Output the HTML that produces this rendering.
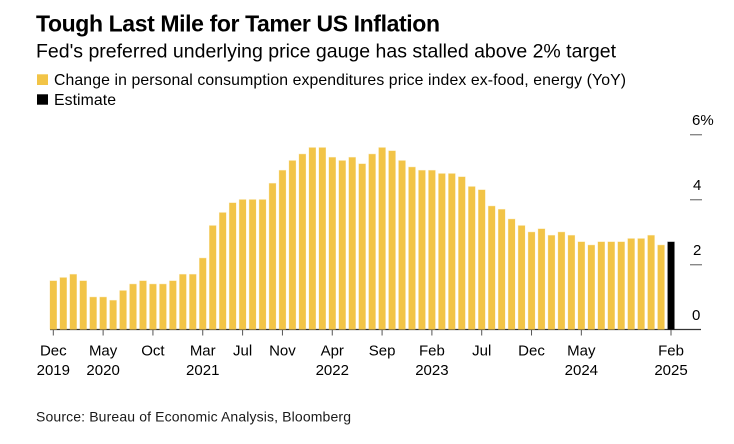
<!DOCTYPE html>
<html lang="en">
<head>
<meta charset="utf-8">
<title>Tough Last Mile for Tamer US Inflation</title>
<style>
html,body{margin:0;padding:0;background:#fff;width:734px;height:444px;overflow:hidden}
svg{display:block;font-family:"Liberation Sans",Arial,sans-serif;fill:#000}
</style>
</head>
<body>
<svg id="chart" width="734" height="444" viewBox="0 0 734 444" xmlns="http://www.w3.org/2000/svg">
  <text x="36" y="31.7" font-size="23" font-weight="700" textLength="404" lengthAdjust="spacing">Tough Last Mile for Tamer US Inflation</text>
  <text x="36" y="57.7" font-size="19.5" textLength="580" lengthAdjust="spacing">Fed's preferred underlying price gauge has stalled above 2% target</text>
  <rect x="37" y="74.3" width="11" height="10.7" fill="#f2c447"/>
  <text x="54" y="85" font-size="15.8" textLength="572" lengthAdjust="spacing">Change in personal consumption expenditures price index ex-food, energy (YoY)</text>
  <rect x="37" y="94.3" width="11" height="10.4" fill="#000"/>
  <text x="54" y="105" font-size="15.8" textLength="62" lengthAdjust="spacing">Estimate</text>
  <g id="y-axis"></g>
  <g id="x-axis"></g>
  <g id="bars"></g>
  <text x="36" y="421.7" font-size="14" fill="#1a1a1a" textLength="315" lengthAdjust="spacing">Source: Bureau of Economic Analysis, Bloomberg</text>
</svg>
<script>
var pceValues = [1.5,1.6,1.7,1.5,1.0,1.0,0.9,1.2,1.4,1.5,1.4,1.4,1.5,1.7,1.7,2.2,3.2,3.6,3.9,4.0,4.0,4.0,4.5,4.9,5.2,5.4,5.6,5.6,5.3,5.2,5.3,5.1,5.4,5.6,5.5,5.2,5.0,4.9,4.9,4.8,4.8,4.7,4.4,4.3,3.8,3.7,3.4,3.2,3.0,3.1,2.9,3.0,2.9,2.7,2.6,2.7,2.7,2.7,2.8,2.8,2.9,2.6];
var estimateValues = [2.7];
var yTicks = [0,2,4,6];
var yTickLabels = ["0","2","4","6%"];
var xTickIndexes = [0,5,10,15,19,23,28,33,38,43,48,53,62];
var xTickMonths = ["Dec","May","Oct","Mar","Jul","Nov","Apr","Sep","Feb","Jul","Dec","May","Feb"];
var xTickYears = ["2019","2020","","2021","","","2022","","2023","","","2024","2025"];

var NS = "http://www.w3.org/2000/svg";
function xScale(i){ return 53.3 + i * 9.963; }
function yScale(v){ return 329.7 - v * 32.5; }
function make(tag, attrs, parent){
  var el = document.createElementNS(NS, tag);
  for (var k in attrs) el.setAttribute(k, attrs[k]);
  parent.appendChild(el);
  return el;
}
var barsG = document.getElementById("bars");
var xG = document.getElementById("x-axis");
var yG = document.getElementById("y-axis");

var baseline = make("line", {x1:50, x2:701, y1:329.5, y2:329.5, stroke:"#333", "stroke-width":1.3}, xG);



xTickIndexes.forEach(function(idx, n){
  var x = xScale(idx);
  var t = make("line", {x1:x, x2:x, y1:330, y2:335.5, stroke:"#555", "stroke-width":1}, xG);
  
  
  var m = make("text", {x:x, y:355.7, "font-size":15, "text-anchor":"middle"}, xG);
  
  
  m.textContent = xTickMonths[n];
  if (xTickYears[n]) {
    var yr = make("text", {x:x, y:375, "font-size":15, "text-anchor":"middle"}, xG);
    
    
    yr.textContent = xTickYears[n];
  }
});

yTicks.forEach(function(v, n){
  var y = yScale(v);
  if (v > 0) {
    var t = make("line", {x1:690, x2:702, y1:y, y2:y, stroke:"#888", "stroke-width":1.4}, yG);
    
    
  }
  var lab = make("text", {x: (v === 6 || v === 0) ? 692 : 693, y: y - 9.6, "font-size":15}, yG);
  
  
  lab.textContent = yTickLabels[n];
});

function drawBar(i, v, color, name){
  var x = xScale(i), y = yScale(v);
  var halo = make("rect", {x:x-3.7, y:y-0.5, width:7.4, height:329.5-y+0.5, fill:color, opacity:0.35}, barsG);
  
  
  var r = make("rect", {x:x-3.3, y:y, width:6.7, height:329.5-y, fill:color}, barsG);
  
  
}
pceValues.forEach(function(v, i){ drawBar(i, v, "#f2c447", "bar-pce"); });
estimateValues.forEach(function(v, i){ drawBar(pceValues.length + i, v, "#000", "bar-estimate"); });
</script>
</body>
</html>
